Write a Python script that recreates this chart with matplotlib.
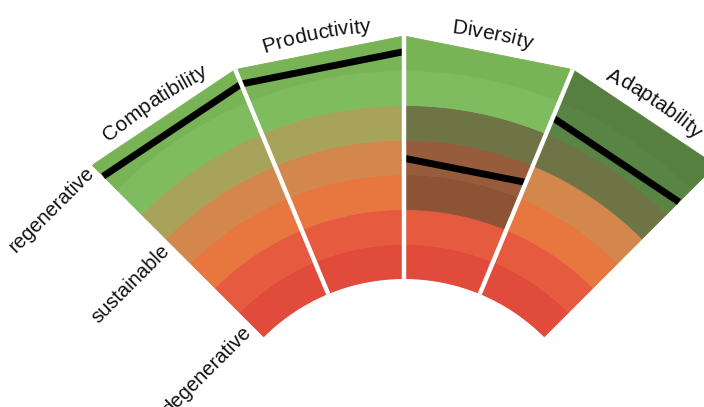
import numpy as np
import matplotlib
matplotlib.use('Agg')
import matplotlib.pyplot as plt
from matplotlib.font_manager import FontProperties

# ====================================
# Dados
# ====================================
criterios = ['Compatibility', 'Productivity', 'Diversity', 'Adaptability']
valores = [6.55, 6.55, 3.48, 5.5]          # nivel da linha preta (0 a 7)
faixas_escuras = [[], [], [2, 3, 4], [4, 5, 6]]   # faixas escurecidas (0 = interna)
niveis = ['degenerative', 'sustainable', 'regenerative']
pos_niveis = [0.47, 3.79, 6.91]

cores_base = ['#E04B3B', '#E65B40', '#E8763F', '#D3874C', '#A8A35B', '#7FBC5F', '#78B355']
cores_escuras = ['#8A3A2E', '#8E4530', '#8C5434', '#965C3C', '#6E7445', '#5A8443', '#577F3F']

n_faixas = len(cores_base)
largura = 22.5
angulo_inicial = 135.0
rorigem = -5.704

# ====================================
# Figura e eixo polar (centro abaixo da figura)
# ====================================
fig = plt.figure(figsize=(7.04, 4.07), dpi=100)
L, A = 704, 407
cx, cy, R = 404, 407 - 477, 441
ax = fig.add_axes([(cx - R) / L, (cy - R) / A, 2 * R / L, 2 * R / A], projection='polar')
ax.set_ylim(0, n_faixas)
ax.set_rorigin(rorigem)
ax.set_axis_off()

fonte = FontProperties(family='Liberation Sans', size=15)
cor_texto = '#111111'

def texto_curvo(ax, texto, theta_c, r, prop):
    renderer = ax.figure.canvas.get_renderer()
    raio_px = 0.5 * ax.bbox.width * (r - rorigem) / (n_faixas - rorigem)
    larg = [0.0] + [renderer.get_text_width_height_descent(texto[:k], prop, ismath=False)[0]
                    for k in range(1, len(texto) + 1)]
    total = larg[-1]
    for i, ch in enumerate(texto):
        s = (larg[i] + larg[i + 1]) / 2 - total / 2
        th = theta_c - s / raio_px
        ax.text(th, r, ch, rotation=np.degrees(th) - 90, ha='center', va='baseline',
                rotation_mode='anchor', fontproperties=prop, color=cor_texto)

# ====================================
# Setores
# ====================================
for i, nome in enumerate(criterios):
    centro = angulo_inicial - largura * (i + 0.5)
    t_esq = np.radians(centro + largura / 2)
    t_dir = np.radians(centro - largura / 2)
    for k in range(n_faixas):
        cor = cores_escuras[k] if k in faixas_escuras[i] else cores_base[k]
        if k < n_faixas - 1:
            ax.bar(np.radians(centro), 1, width=np.radians(largura), bottom=k,
                   color=cor, edgecolor=cor, linewidth=0.6, zorder=2)
        else:
            # faixa externa: base em arco, topo reto
            arco = np.linspace(t_esq, t_dir, 60)
            ax.fill(np.concatenate([arco, [t_dir, t_esq]]),
                    np.concatenate([np.full(arco.size, k), [k + 1, k + 1]]),
                    color=cor, edgecolor=cor, linewidth=0.6, zorder=2)
    ax.plot([t_esq, t_dir], [valores[i], valores[i]], color='black', lw=5,
            solid_capstyle='butt', zorder=4)
    texto_curvo(ax, nome, np.radians(centro), 7.15, fonte)

# linhas brancas entre setores
for i in range(1, len(criterios)):
    a = np.radians(angulo_inicial - largura * i)
    ax.plot([a, a], [0, n_faixas], color='white', lw=3.2, zorder=5,
            solid_capstyle='projecting')

# rotulos dos niveis
angs = [136.7, 136.0, 135.5]
for nome, r, ang in zip(niveis, pos_niveis, angs):
    ax.text(np.radians(ang), r, nome, rotation=45, ha='right', va='center',
            rotation_mode='anchor', fontproperties=FontProperties(family='Liberation Sans', size=14.5),
            color=cor_texto)

fig.savefig('out.png', dpi=100)
